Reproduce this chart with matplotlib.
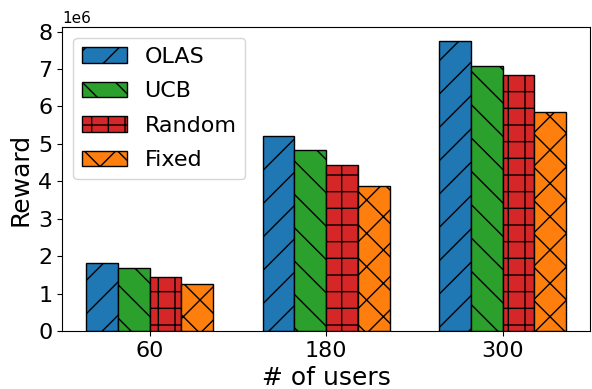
import numpy as np
import matplotlib.pyplot as plt
from matplotlib.ticker import MultipleLocator

# reward per policy for each number of users
users = ['60', '180', '300']
olas = [1.82e6, 5.20e6, 7.74e6]
ucb = [1.68e6, 4.84e6, 7.08e6]
rand = [1.44e6, 4.44e6, 6.85e6]
fixed = [1.27e6, 3.88e6, 5.86e6]

names = ['OLAS', 'UCB', 'Random', 'Fixed']
colors = ['#1f77b4', '#2ca02c', '#d62728', '#ff7f0e']
hatches = ['/', '\\', '+', 'x']

fig, ax = plt.subplots(figsize=(5.92, 3.89), dpi=100)
x = np.arange(len(users))
w = 0.18
for i, vals in enumerate([olas, ucb, rand, fixed]):
    ax.bar(x + (i - 1.5) * w, vals, w, color=colors[i], hatch=hatches[i],
           edgecolor='black', linewidth=1, label=names[i])

ax.set_xticks(x)
ax.set_xticklabels(users)
ax.yaxis.set_major_locator(MultipleLocator(1e6))
ax.tick_params(labelsize=16)
ax.yaxis.get_offset_text().set_fontsize(11)
ax.set_xlabel('# of users', fontsize=18)
ax.set_ylabel('Reward', fontsize=18)
ax.legend(loc='upper left', fontsize=16, handlelength=2.0, labelspacing=0.65)
plt.subplots_adjust(left=0.105, right=0.997, top=0.931, bottom=0.149)
plt.savefig('out.png')
